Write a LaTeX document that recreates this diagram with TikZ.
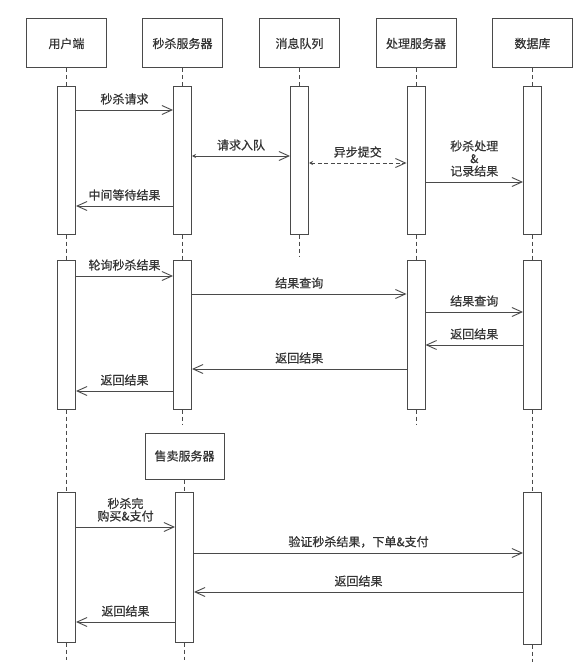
\documentclass[tikz,border=0pt]{standalone}
\usepackage{fontspec}
\setmainfont{Noto Sans CJK SC}[FakeBold=0.6]
\usetikzlibrary{arrows.meta}

\definecolor{linegray}{HTML}{4A4A4A}
\definecolor{textgray}{HTML}{333333}

\tikzset{
  actor/.style={draw=linegray, line width=1pt, minimum width=80pt, minimum height=49pt,
    text=textgray, font=\fontsize{12}{14}\selectfont},
  bar/.style={draw=linegray, line width=1pt, minimum width=18pt, inner sep=0pt, fill=white},
  life/.style={draw=linegray, line width=0.9pt, dash pattern=on 4pt off 3pt},
  msg/.style={draw=linegray, line width=0.9pt, ->},
  async/.style={msg, dash pattern=on 4pt off 2.5pt},
  lbl/.style={text=textgray, font=\fontsize{12}{12.5}\selectfont, above=2pt, inner sep=3pt, align=center},
}

\begin{document}
\begin{tikzpicture}[x=1pt, y=-1pt, >={Straight Barb[length=10pt,width=9pt]}]
	\useasboundingbox (0,0) rectangle (588,671);
	% participants
	\node[actor] at (66.5,43.5) (user) {用户端};
	\node[actor] at (182.5,43.5) (seck) {秒杀服务器};
	\node[actor] at (299.5,43.5) (mq) {消息队列};
	\node[actor] at (416,43.5) (proc) {处理服务器};
	\node[actor] at (532.5,43.5) (db) {数据库};
	\node[actor, minimum width=79pt, minimum height=46pt] at (184.5,456) (sale) {售卖服务器};
	% activation bars
	\node[bar, minimum height=147pt] at (66.5,160.5) (u1) {};
	\node[bar, minimum height=147pt] at (182.5,160.5) (s1) {};
	\node[bar, minimum height=147pt] at (299.5,160.5) (q1) {};
	\node[bar, minimum height=147pt] at (416,160.5) (p1) {};
	\node[bar, minimum height=147pt] at (532.5,160.5) (d1) {};
	\node[bar, minimum height=149pt] at (66.5,334.5) (u2) {};
	\node[bar, minimum height=149pt] at (182.5,334.5) (s2) {};
	\node[bar, minimum height=149pt] at (416,334.5) (p2) {};
	\node[bar, minimum height=149pt] at (532.5,334.5) (d2) {};
	\node[bar, minimum height=150pt] at (66.5,567) (u3) {};
	\node[bar, minimum height=150pt] at (184.5,567) (s3) {};
	\node[bar, minimum height=152pt] at (532.5,568) (d3) {};
	% ends of lifelines
	\coordinate (qend) at (299.5,257);
	\coordinate (s2end) at (182.5,425);
	\coordinate (p2end) at (416,425);
	\coordinate (uend) at (66.5,660);
	\coordinate (s3end) at (184.5,660);
	\coordinate (dend) at (532.5,662);
	% lifelines
	\draw[life] (user) -- (u1) -- (u2) -- (u3) -- (uend);
	\draw[life] (seck) -- (s1) -- (s2) -- (s2end);
	\draw[life] (sale) -- (s3) -- (s3end);
	\draw[life] (mq) -- (q1) -- (qend);
	\draw[life] (proc) -- (p1) -- (p2) -- (p2end);
	\draw[life] (db) -- (d1) -- (d2) -- (d3) -- (dend);
	% message rows
	\coordinate (r1) at (0,110);
	\coordinate (r2) at (0,156);
	\coordinate (r3) at (0,163);
	\coordinate (r4) at (0,182);
	\coordinate (r5) at (0,206);
	\coordinate (r6) at (0,276);
	\coordinate (r7) at (0,294);
	\coordinate (r8) at (0,312);
	\coordinate (r9) at (0,345);
	\coordinate (r10) at (0,369);
	\coordinate (r11) at (0,391);
	\coordinate (r12) at (0,527);
	\coordinate (r13) at (0,553);
	\coordinate (r14) at (0,592);
	\coordinate (r15) at (0,622);
	% messages
	\draw[msg] (u1.east |- r1) -- node[lbl] {秒杀请求} (s1.west |- r1);
	\draw[msg, {Stealth[length=4pt,width=4pt]}->] (s1.east |- r2) -- node[lbl] {请求入队} (q1.west |- r2);
	\draw[async, {Stealth[length=4pt,width=4pt]}->] (q1.east |- r3) -- node[lbl] {异步提交} (p1.west |- r3);
	\draw[msg] (p1.east |- r4) -- node[lbl] {秒杀处理\\\&\\记录结果} (d1.west |- r4);
	\draw[msg] (s1.west |- r5) -- node[lbl] {中间等待结果} (u1.east |- r5);
	\draw[msg] (u2.east |- r6) -- node[lbl] {轮询秒杀结果} (s2.west |- r6);
	\draw[msg] (s2.east |- r7) -- node[lbl] {结果查询} (p2.west |- r7);
	\draw[msg] (p2.east |- r8) -- node[lbl] {结果查询} (d2.west |- r8);
	\draw[msg] (d2.west |- r9) -- node[lbl] {返回结果} (p2.east |- r9);
	\draw[msg] (p2.west |- r10) -- node[lbl] {返回结果} (s2.east |- r10);
	\draw[msg] (s2.west |- r11) -- node[lbl] {返回结果} (u2.east |- r11);
	\draw[msg] (u3.east |- r12) -- node[lbl] {秒杀完\\购买\&支付} (s3.west |- r12);
	\draw[msg] (s3.east |- r13) -- node[lbl] {验证秒杀结果，下单\&支付} (d3.west |- r13);
	\draw[msg] (d3.west |- r14) -- node[lbl] {返回结果} (s3.east |- r14);
	\draw[msg] (s3.west |- r15) -- node[lbl] {返回结果} (u3.east |- r15);
\end{tikzpicture}
\end{document}
